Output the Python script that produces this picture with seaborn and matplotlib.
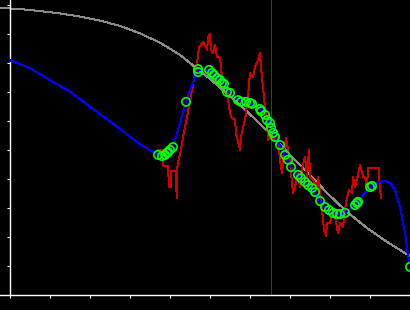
import numpy as np
import pandas as pd
import matplotlib
matplotlib.use("Agg")
import matplotlib.pyplot as plt
import seaborn as sns

# Smooth reference curve (gray)
gray_x = [-0.25, 0.25, 0.75, 1.25, 1.75, 2.25, 2.75, 3.25, 3.75, 4.25, 4.625, 5.0,
          5.375, 5.75, 6.175, 6.575, 7.0, 7.45, 7.925, 8.425, 8.925, 9.425, 10.0]
gray_y = [9.90, 9.86, 9.79, 9.71, 9.60, 9.46, 9.28, 9.02, 8.70, 8.28, 7.86, 7.45,
          7.00, 6.55, 6.00, 5.45, 4.83, 4.21, 3.52, 2.86, 2.31, 1.83, 1.34]

# Fitted curve (blue)
blue_x = [0.0, 0.5, 1.0, 1.5, 2.0, 2.5, 3.0, 3.25, 3.42, 3.55, 3.7, 3.8, 3.875, 3.95,
          4.075, 4.25, 4.4, 4.55, 4.7, 4.85, 4.975, 5.1, 5.25, 5.35, 5.5, 5.7, 5.9,
          6.05, 6.25, 6.375, 6.5, 6.625, 6.75, 6.875, 7.025, 7.2, 7.4, 7.55, 7.75,
          7.875, 8.075, 8.25, 8.375, 8.625, 8.875, 9.05, 9.25, 9.375, 9.5, 9.625,
          9.75, 9.875, 9.95, 10.0]
blue_y = [8.10, 7.82, 7.41, 7.01, 6.49, 5.98, 5.46, 5.20, 5.06, 4.95, 4.85, 4.80, 4.83,
          4.93, 5.10, 5.93, 6.66, 7.24, 7.76, 7.77, 7.76, 7.59, 7.41, 7.28, 6.97, 6.72,
          6.66, 6.59, 6.41, 6.21, 5.93, 5.45, 5.17, 4.83, 4.41, 4.14, 3.86, 3.69, 3.24,
          3.03, 2.83, 2.79, 2.83, 3.10, 3.52, 3.76, 3.90, 3.93, 3.86, 3.62,
          3.03, 2.14, 1.31, 1.10]

# Raw signal (red)
red_x = [3.70, 3.825, 3.825, 3.95, 3.975, 4.025, 4.025, 4.15, 4.15, 4.175, 4.175, 4.20,
         4.275, 4.325, 4.425, 4.55, 4.675, 4.725, 4.825, 4.875, 4.925, 4.95, 5.00,
         5.025, 5.075, 5.125, 5.175, 5.25, 5.30, 5.375, 5.425, 5.475, 5.525, 5.625,
         5.65, 5.75, 5.775, 5.825, 5.875, 5.95, 6.00, 6.075, 6.125, 6.20, 6.25, 6.275,
         6.325, 6.375, 6.425, 6.45, 6.50, 6.625, 6.70, 6.75, 6.80, 6.85, 6.90, 6.95,
         7.00, 7.075, 7.125, 7.20, 7.25, 7.30, 7.375, 7.425, 7.475, 7.50, 7.575,
         7.675, 7.70, 7.75, 7.80, 7.85, 7.90, 7.925, 8.00, 8.05, 8.075, 8.125, 8.175,
         8.20, 8.25, 8.325, 8.375, 8.425, 8.475, 8.55, 8.575, 8.625, 8.70, 8.75,
         8.80, 8.825, 8.875, 8.925, 8.95, 9.225, 9.225, 9.275]
red_y = [5.00, 5.00, 4.45, 4.45, 3.72, 3.72, 4.28, 4.28, 3.79, 3.34, 4.31, 4.55,
         5.00, 5.45, 6.14, 7.07, 8.00, 8.55, 8.72, 8.62, 8.45, 8.86, 9.00,
         8.45, 8.34, 8.62, 8.21, 8.17, 7.52, 7.41, 7.17, 6.48, 6.14, 6.03,
         5.59, 5.00, 5.45, 5.79, 6.03, 6.83, 7.66, 7.52, 7.86, 8.10, 8.34, 7.86,
         7.17, 6.48, 5.93, 5.34, 5.45, 5.34, 5.41, 4.66, 4.21, 5.00, 5.41, 5.00,
         4.55, 3.52, 3.72, 4.21, 3.72, 4.38, 4.76, 4.07, 5.00, 4.07, 3.97,
         3.72, 4.07, 3.52, 2.93, 2.24, 2.03, 2.48, 2.48, 2.83, 2.93, 2.69, 2.34,
         2.14, 2.48, 2.34, 2.93, 3.38, 3.62, 3.52, 4.07, 3.72, 4.14, 4.48,
         4.24, 4.07, 4.07, 3.72, 4.38, 4.38, 4.03, 3.34]

# Sample points (green circles)
pts_x = [3.70, 3.80, 3.875, 3.925, 3.95, 4.0, 4.075, 4.40, 4.70, 4.70, 4.975, 5.05,
         5.10, 5.175, 5.25, 5.30, 5.35, 5.425, 5.50, 5.70, 5.775, 5.90, 6.0, 6.05,
         6.25, 6.275, 6.375, 6.425, 6.50, 6.525, 6.575, 6.625, 6.75, 6.875, 6.95,
         7.025, 7.20, 7.275, 7.375, 7.45, 7.55, 7.625, 7.75, 7.875, 7.975, 8.075,
         8.175, 8.25, 8.375, 8.625, 8.675, 8.70, 9.0, 9.05, 10.0]
pts_y = [4.83, 4.79, 4.83, 4.90, 4.93, 5.00, 5.10, 6.66, 7.79, 7.69, 7.76, 7.66,
         7.59, 7.48, 7.41, 7.31, 7.28, 7.00, 6.97, 6.72, 6.66, 6.66, 6.62, 6.59,
         6.41, 6.34, 6.21, 6.03, 5.93, 5.76, 5.59, 5.45, 5.17, 4.83, 4.66,
         4.41, 4.14, 4.03, 3.90, 3.79, 3.69, 3.55, 3.24, 3.03, 2.93, 2.83,
         2.79, 2.79, 2.83, 3.10, 3.17, 3.21, 3.72, 3.76, 0.97]

marker_x = 6.53

x_ticks = list(range(0, 11))
y_ticks = list(range(0, 11))

W, H = 410, 310
fig = plt.figure(figsize=(4.1001, 3.1001), dpi=100)
fig.patch.set_facecolor("black")
ax = fig.add_axes([0, 15 / H, 1, 295 / H])
ax.set_facecolor("black")

LW = 0.72  # one pixel
sns.lineplot(x=gray_x, y=gray_y, sort=False, estimator=None, color="#8c8c8c",
             lw=LW, ax=ax, zorder=2, antialiased=False)
ax.axvline(marker_x, color="#6a1b7a", lw=LW, zorder=2.5, antialiased=False)
sns.lineplot(x=red_x, y=red_y, sort=False, estimator=None, color="#cc0000",
             lw=LW, ax=ax, zorder=3, antialiased=False)
sns.lineplot(x=blue_x, y=blue_y, sort=False, estimator=None, color="#0000ff",
             lw=LW, ax=ax, zorder=4, antialiased=False)
sns.scatterplot(x=pts_x, y=pts_y, marker="o", s=36, facecolors="none",
                edgecolor="#00ff00", linewidth=1.2, ax=ax, zorder=5)

ax.set_xlim(-0.25, 10)
ax.set_ylim(0, 295 / 29)
ax.set_xticks(x_ticks)
ax.set_yticks(y_ticks)
ax.set_xticklabels([])
ax.set_yticklabels([])
ax.tick_params(colors="white", direction="out", length=2.5, width=0.8)
for s in ["top", "right"]:
    ax.spines[s].set_visible(False)
ax.spines["left"].set_position(("data", 0))
ax.spines["left"].set_color("white")
ax.spines["bottom"].set_color("white")
ax.spines["left"].set_linewidth(1.0)
ax.spines["bottom"].set_linewidth(1.0)
ax.set_xlabel("")
ax.set_ylabel("")
ax.grid(False)

fig.savefig("out.png", dpi=100, facecolor="black")
